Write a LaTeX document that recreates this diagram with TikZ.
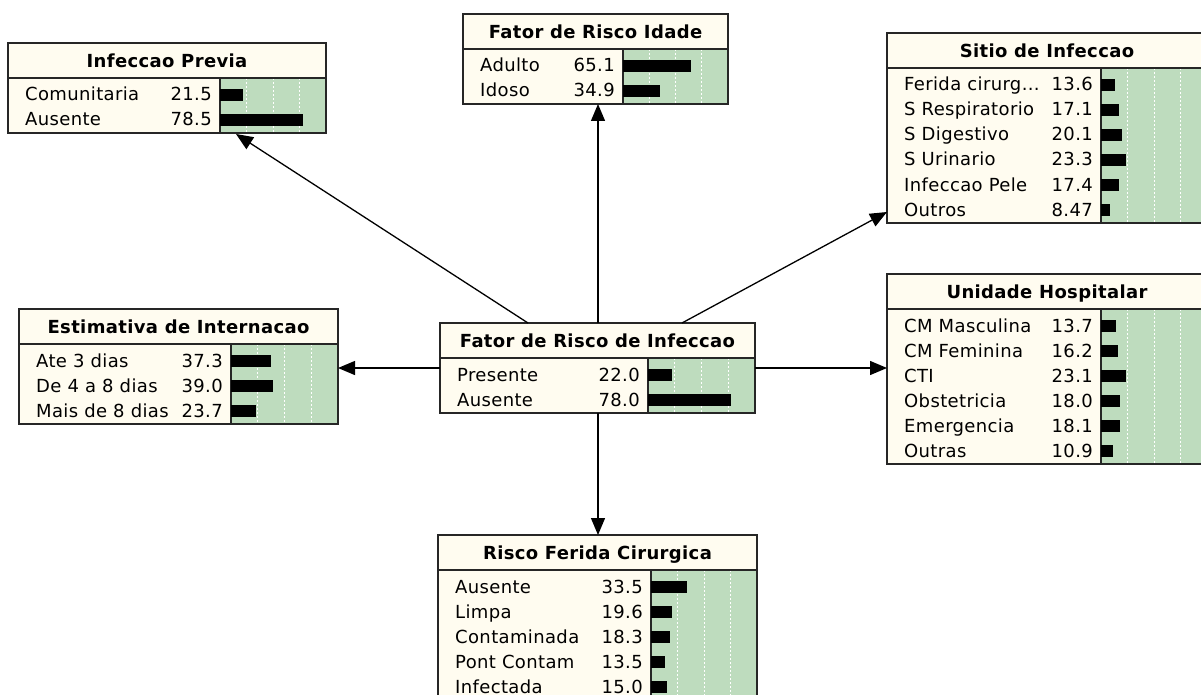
\documentclass[tikz,border=0pt]{standalone}
\usepackage{fontspec}
\setmainfont{DejaVu Sans}[LetterSpace=2.0]
\usetikzlibrary{calc,arrows.meta}
\definecolor{bncream}{RGB}{255,252,240}
\definecolor{bngreen}{RGB}{190,220,190}
\newcommand{\bndots}{...}
\tikzset{
 bnframe/.style={draw=black!85, line width=1.2pt, fill=bncream, shape=rectangle, inner sep=0pt, outer sep=0pt},
 bnborder/.style={draw=black!85, line width=1.2pt},
 bntitle/.style={font=\fontsize{18}{21}\selectfont\bfseries, inner sep=0pt, anchor=base},
 bnlabel/.style={font=\fontsize{18}{21}\selectfont, inner sep=0pt, anchor=base west},
 bnvalue/.style={font=\fontsize{18}{21}\selectfont, inner sep=0pt, anchor=base east},
 bngrid/.style={draw=white, line width=0.8pt, dash pattern=on 2pt off 2pt},
 link/.style={draw=black, line width=1.3pt, -{Triangle[length=17pt,width=14pt]}},
}
% name, x, y, total width, label width, rows, title, rows list
\newcommand{\bnbox}[8]{%
 \pgfmathsetmacro{\bnH}{40+25*#6}%
 \pgfmathsetmacro{\bnG}{#4-#5}%
 \node[bnframe, minimum width=#4pt, minimum height=\bnH pt, anchor=north west] (#1) at (#2,#3) {};
 \fill[bngreen] ($(#1.north west)+(#5,35)$) rectangle (#1.south east);
 \foreach \g in {0.25,0.5,0.75}{\draw[bngrid] ($(#1.north west)+(#5+\bnG*\g,35)$) -- ($(#1.south west)+(#5+\bnG*\g,0)$);}
 \node[bntitle] (#1-t) at ($(#1.north)+(0,24.5)$) {#7};
 \draw[bnborder] ($(#1.north west)+(0,35)$) -- ($(#1.north east)+(0,35)$);
 \draw[bnborder] ($(#1.north west)+(#5,35)$) -- ($(#1.south west)+(#5,0)$);
 \foreach \lab/\val [count=\i] in {#8}{%
   \pgfmathsetmacro{\yc}{52+25*(\i-1)}%
   \pgfmathsetmacro{\bl}{\bnG*\val/100}%
   \fill[black] ($(#1.north west)+(#5,\yc-6)$) rectangle ($(#1.north west)+(#5+\bl,\yc+6)$);
   \node[bnlabel] (#1-l\i) at ($(#1.north west)+(17,\yc+6)$) {\lab};
   \node[bnvalue] (#1-v\i) at ($(#1.north west)+(#5-8,\yc+6)$) {\val};
 }
 \draw[bnborder] (#1.north west) rectangle (#1.south east);
}
\begin{document}
\begin{tikzpicture}[x=1pt,y=-1pt]
\useasboundingbox (0,0) rectangle (1201,695);
\clip (0,0) rectangle (1201,695);
\fill[white] (0,0) rectangle (1201,695);

\bnbox{ip}{8}{43}{318}{212}{2}{Infeccao Previa}{Comunitaria/21.5,Ausente/78.5}
\bnbox{fi}{463}{14}{265}{160}{2}{Fator de Risco Idade}{Adulto/65.1,Idoso/34.9}
\bnbox{si}{887}{33}{320}{214}{6}{Sitio de Infeccao}{Ferida cirurg\bndots/13.6,S Respiratorio/17.1,S Digestivo/20.1,S Urinario/23.3,Infeccao Pele/17.4,Outros/8.47}
\bnbox{ei}{19}{309}{319}{212}{3}{Estimativa de Internacao}{Ate 3 dias/37.3,De 4 a 8 dias/39.0,Mais de 8 dias/23.7}
\bnbox{c}{440}{323}{315}{208}{2}{Fator de Risco de Infeccao}{Presente/22.0,Ausente/78.0}
\bnbox{uh}{887}{274}{320}{214}{6}{Unidade Hospitalar}{CM Masculina/13.7,CM Feminina/16.2,CTI/23.1,Obstetricia/18.0,Emergencia/18.1,Outras/10.9}
\bnbox{rf}{438}{535}{319}{213}{5}{Risco Ferida Cirurgica}{Ausente/33.5,Limpa/19.6,Contaminada/18.3,Pont Contam/13.5,Infectada/15.0}

\draw[link] ($(c.north west)+(88,0)$) -- ($(ip.south west)+(228,1)$);
\draw[link] ($(c.north west)+(158,0)$) -- ($(fi.south west)+(135,0)$);
\draw[link] ($(c.north west)+(242,0)$) -- ($(si.south west)+(0,-11)$);
\draw[link] (c.west) -- (c.west -| ei.east);
\draw[link] (c.east) -- (c.east -| uh.west);
\draw[link] ($(c.south west)+(158,0)$) -- ($(rf.north west)+(160,0)$);
\end{tikzpicture}
\end{document}
